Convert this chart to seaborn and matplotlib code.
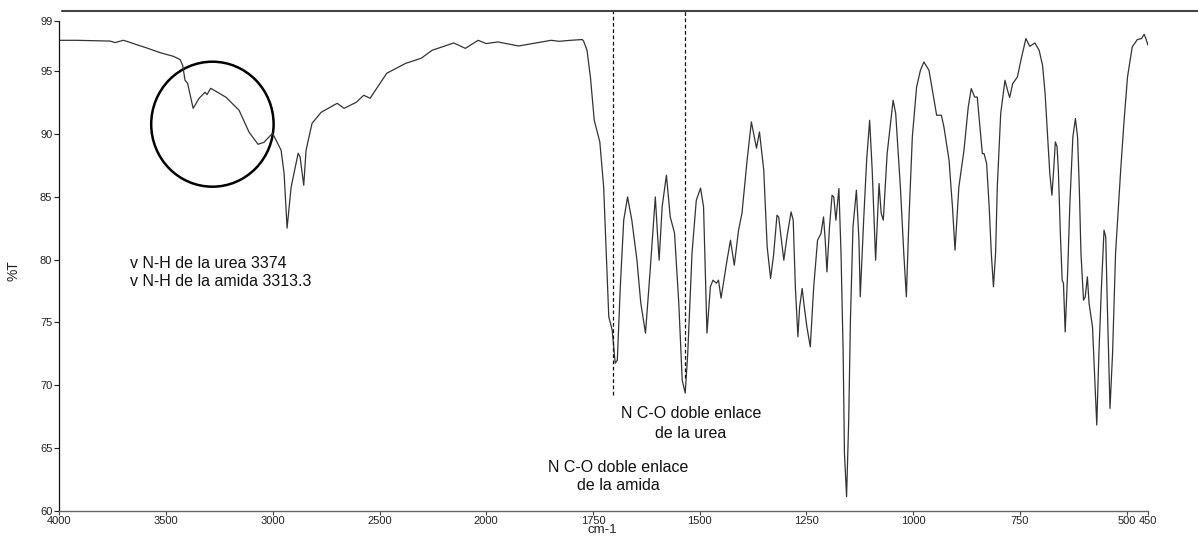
import numpy as np
import pandas as pd
import matplotlib
matplotlib.use("Agg")
import matplotlib.pyplot as plt
from matplotlib.patches import Ellipse
from matplotlib.lines import Line2D
import seaborn as sns

# ---------------- data ----------------
wavenumber = [
    4000, 3918, 3762, 3739, 3700, 3684, 3653, 3590, 3528, 3466, 3434, 3422, 3411,
    3399, 3373, 3345, 3317, 3308, 3291, 3275, 3219, 3158, 3111, 3069, 3041, 3001,
    2961, 2947, 2933, 2914, 2881, 2872, 2855, 2844, 2816, 2773, 2698, 2666, 2609,
    2574, 2544, 2466, 2377, 2305, 2253, 2152, 2098, 2038, 2000,
    1973, 1924, 1883, 1848, 1829, 1803, 1775, 1772, 1764, 1756, 1747, 1734, 1725,
    1719, 1713, 1705, 1698, 1693, 1686, 1678, 1669, 1659, 1647, 1638, 1627, 1616,
    1604, 1599, 1595, 1588, 1578, 1569, 1559, 1549, 1541, 1534, 1528, 1518, 1508,
    1498, 1491, 1483, 1475, 1469, 1461, 1456, 1450, 1436, 1428, 1419, 1409, 1401,
    1389, 1379, 1367, 1360, 1350, 1342, 1334, 1327, 1319, 1315, 1303, 1295, 1286,
    1281, 1276, 1270, 1266, 1260, 1255, 1249, 1241, 1233, 1224, 1216, 1210, 1206,
    1202, 1196, 1190, 1186, 1181, 1174, 1169, 1164, 1161, 1156, 1151, 1147, 1141,
    1133, 1127, 1124, 1116, 1109, 1102, 1096, 1088, 1080, 1075, 1070, 1061, 1047,
    1041, 1030, 1022, 1016, 1010, 1002, 992, 983, 975, 963, 955, 945, 934, 928,
    916, 908, 902, 893, 881, 871, 864, 856, 850, 843, 838, 834, 828, 822, 817,
    812, 807, 803, 795, 785, 779, 774, 767, 756, 746, 736, 727, 715, 705, 697,
    691, 685, 680, 675, 671, 667, 663, 660, 655, 651, 648, 644, 638, 633, 626,
    620, 615, 611, 607, 601, 597, 592, 588, 580, 575, 570, 565, 559, 553, 549,
    545, 539, 533, 526, 514, 506, 498, 487, 475, 465, 459, 455, 450,
]
transmittance = [
    97.44, 97.44, 97.38, 97.26, 97.44, 97.36, 97.18, 96.83, 96.46, 96.17, 95.91, 95.45, 94.26,
    94.02, 92.03, 92.83, 93.31, 93.12, 93.62, 93.47, 92.91, 91.88, 90.13, 89.17, 89.33, 90.05,
    88.70, 86.87, 82.50, 85.76, 88.46, 88.16, 85.91, 88.70, 90.84, 91.72, 92.43, 92.03, 92.51,
    93.07, 92.83, 94.82, 95.61, 96.01, 96.65, 97.23, 96.80, 97.44, 97.18,
    97.31, 96.99, 97.23, 97.44, 97.36, 97.44, 97.50, 97.38, 96.65, 94.52, 91.08, 89.36, 85.78,
    80.51, 75.45, 74.39, 71.76, 72.00, 77.83, 83.13, 84.98, 83.13, 79.95, 76.53, 74.15, 79.16,
    84.98, 82.10, 79.95, 84.19, 86.71, 83.39, 82.10, 76.53, 70.41, 69.38, 72.56, 80.51, 84.72,
    85.68, 84.19, 74.15, 77.83, 78.36, 78.12, 78.36, 76.93, 79.95, 81.54, 79.55, 82.34, 83.69,
    87.90, 90.95, 88.86, 90.15, 87.11, 81.01, 78.50, 80.35, 83.53, 83.37, 79.95, 81.94, 83.79,
    83.13, 77.83, 73.86, 76.22, 77.70, 76.22, 74.65, 73.06, 77.83, 81.54, 82.07, 83.39, 81.54,
    79.02, 82.60, 85.12, 84.98, 83.13, 85.65, 80.48, 72.54, 64.59, 61.14, 67.23, 75.18, 82.60,
    85.52, 81.54, 77.04, 83.13, 87.90, 91.08, 87.11, 79.95, 86.05, 83.69, 83.13, 88.43, 92.67,
    91.64, 85.78, 80.49, 77.04, 83.13, 89.75, 93.73, 95.06, 95.72, 95.06, 93.47, 91.48, 91.48, 90.55,
    87.90, 84.19, 80.75, 85.78, 88.70, 92.14, 93.60, 92.93, 92.93, 90.29, 88.43, 88.43, 87.64, 84.19, 80.49,
    77.83, 80.51, 85.78, 91.61, 94.26, 93.47, 92.89, 93.99, 94.52, 96.11, 97.58, 96.96, 97.23, 96.65, 95.45,
    93.20, 89.75, 86.84, 85.12, 87.11, 89.36, 88.96, 87.11, 81.80, 78.36, 78.12, 74.25, 79.16, 84.46, 89.75,
    91.22, 89.75, 85.78, 80.49, 76.77, 77.04, 78.63, 76.51, 74.65, 70.68, 66.84, 72.54, 77.83, 82.34, 81.80,
    75.98, 68.16, 72.54, 80.49, 87.11, 91.08, 94.52, 96.91, 97.50, 97.58, 97.92, 97.58, 97.04,
]

# marked carbonyl bands (dashed guides)
band_wavenumber = [1702, 1534]
band_bottom = [69.2, 70.6]

x_ticks = [4000, 3500, 3000, 2500, 2000, 1750, 1500, 1250, 1000, 750, 500, 450]
x_tick_labels = ["4000", "3500", "3000", "2500", "2000", "1750", "1500", "1250",
                 "1000", "750", "500", "450"]
y_ticks = [60, 65, 70, 75, 80, 85, 90, 95, 99]
y_tick_labels = ["60", "65", "70", "75", "80", "85", "90", "95", "99"]

df = pd.DataFrame({"wn": wavenumber, "T": transmittance})

# ---------------- styling ----------------
sns.set_theme(style="ticks")
plt.rcParams["font.family"] = ["Liberation Sans", "DejaVu Sans"]

fig = plt.figure(figsize=(11.98, 5.37), dpi=100)
W, H = 1198, 537
ax_left, ax_right, ax_top, ax_bottom = 59.3, 1148.0, 20.7, 511.0
ax = fig.add_axes([ax_left / W, 1 - ax_bottom / H,
                   (ax_right - ax_left) / W, (ax_bottom - ax_top) / H])


# FTIR-style abscissa: above 2000 cm-1 the scale is compressed by a factor 2
def fwd(x):
    x = np.asarray(x, dtype=float)
    return np.where(x > 2000, 2000 + (x - 2000) / 2.0, x)


def inv(y):
    y = np.asarray(y, dtype=float)
    return np.where(y > 2000, 2000 + (y - 2000) * 2.0, y)


sns.lineplot(data=df, x="wn", y="T", sort=False, estimator=None, ax=ax,
             color="#333333", linewidth=0.9)

ax.set_xscale("function", functions=(fwd, inv))
ax.set_xlim(4000, 450)
ax.set_ylim(60, 99)
ax.set_xticks(x_ticks)
ax.set_xticklabels(x_tick_labels)
ax.set_yticks(y_ticks)
ax.set_yticklabels(y_tick_labels)
ax.minorticks_off()
ax.set_xlabel("")
ax.set_ylabel("")
ax.tick_params(axis="both", labelsize=8, colors="#222222", length=3.5, width=0.8, pad=1.5)
ax.tick_params(axis="x", colors="#444444", labelcolor="#222222", length=3, pad=0.3)

for s in ["top", "right"]:
    ax.spines[s].set_visible(False)
ax.spines["left"].set_color("#111111")
ax.spines["left"].set_linewidth(0.9)
ax.spines["bottom"].set_color("#666666")
ax.spines["bottom"].set_linewidth(1.0)

# dashed guides up to the top rule
top_val = 60 + (ax_bottom - 10.7) / ((ax_bottom - ax_top) / 39.0)
ax.vlines(band_wavenumber, band_bottom, top_val, colors="#111111",
          linestyles=(0, (3, 2)), linewidth=0.9, clip_on=False)

# top rule
fig.add_artist(Line2D([62.3 / W, 1.0], [1 - 10.7 / H, 1 - 10.7 / H],
                      transform=fig.transFigure, color="#444444", linewidth=1.5))

# circle around N-H region (axes coordinates)
aw, ah = ax_right - ax_left, ax_bottom - ax_top
circ = Ellipse(((212.4 - ax_left) / aw, (ax_bottom - 124.2) / ah),
               122.4 / aw, 125.0 / ah, transform=ax.transAxes,
               fill=False, edgecolor="black", linewidth=1.8, clip_on=False)
ax.add_patch(circ)

# annotations
fs = 11.5
fig.text(130 / W, 1 - 264 / H, "v N-H de la urea 3374", fontsize=fs, ha="left", va="center", color="#111111")
fig.text(130 / W, 1 - 282 / H, "v N-H de la amida 3313.3", fontsize=fs, ha="left", va="center", color="#111111")
fig.text(691 / W, 1 - 414 / H, "N C-O doble enlace", fontsize=fs, ha="center", va="center", color="#111111")
fig.text(691 / W, 1 - 434 / H, "de la urea", fontsize=fs, ha="center", va="center", color="#111111")
fig.text(618 / W, 1 - 467 / H, "N C-O doble enlace", fontsize=fs, ha="center", va="center", color="#111111")
fig.text(618 / W, 1 - 486 / H, "de la amida", fontsize=fs, ha="center", va="center", color="#111111")

# axis titles
fig.text(602 / W, 1 - 529.8 / H, "cm-1", fontsize=9.5, ha="center", va="center", color="#222222")
fig.text(13.5 / W, 1 - 271 / H, "%T", fontsize=10, ha="center", va="center", rotation=90, color="#222222")

fig.savefig("out.png", dpi=100)
